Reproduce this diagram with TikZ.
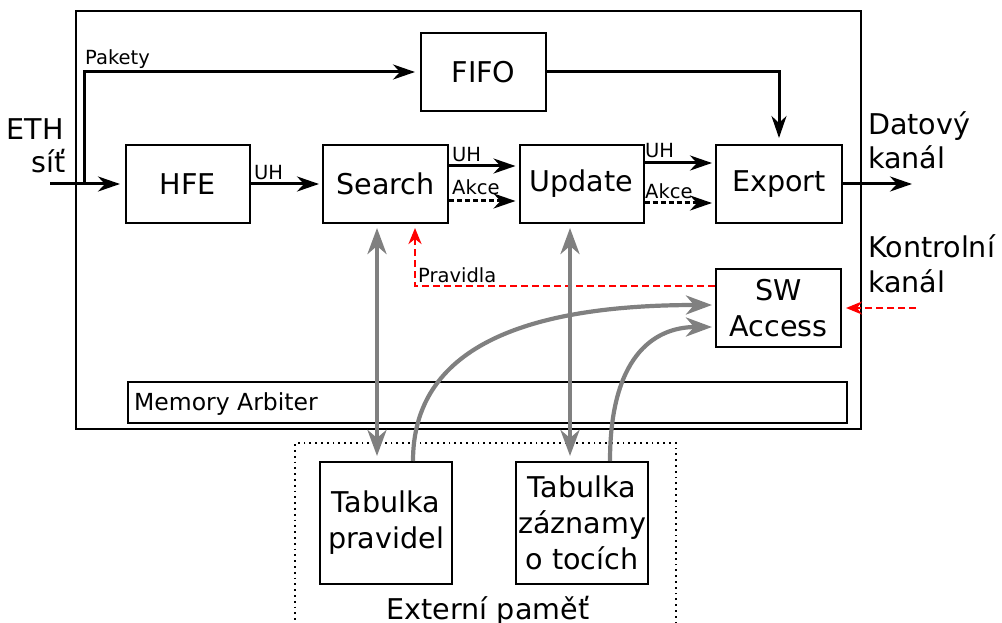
\documentclass[tikz,border=0pt]{standalone}
\usepackage{fontspec}
\setmainfont{DejaVu Sans}
\usetikzlibrary{arrows.meta,calc}

% text sizes used in the block diagram
\newcommand{\dgBig}{\fontsize{28.6}{36}\selectfont}
\newcommand{\dgSmall}{\fontsize{19.5}{21}\selectfont}
\newcommand{\dgArb}{\fontsize{23.5}{26}\selectfont}

\begin{document}
\begin{tikzpicture}[x=1pt,y=-1pt,
  blockbox/.style={draw, line width=2pt, inner sep=0pt, align=center, font=\dgBig},
  txt/.style={inner sep=0pt, font=\dgBig},
  lbl/.style={inner sep=0pt, font=\dgSmall},
  arr/.style={line width=3pt, -{Stealth[length=22pt,width=15pt,inset=7pt]}, shorten >=3pt},
  dashline/.style={dash pattern=on 5pt off 3pt},
  redarr/.style={red, line width=2.6pt, dash pattern=on 7pt off 4pt,
    -{Stealth[length=16pt,width=13pt,inset=5pt]}, shorten >=4pt},
  grayarr/.style={gray, line width=4.2pt},
  gtip/.tip={Stealth[length=26pt,width=19pt,inset=8pt]}
]
\useasboundingbox (0,0) rectangle (1002,623);
\clip (0,0) rectangle (1002,623);

% enclosing boxes
\node[draw, line width=2pt, minimum width=785pt, minimum height=418pt] (core) at (468.5,220) {};
\node[draw, line width=1.8pt, dash pattern=on 1.8pt off 4pt, minimum width=381pt, minimum height=217pt] (extmem) at (485.5,551.5) {};
\node[draw, line width=2pt, minimum width=719pt, minimum height=41pt] (arb) at (487.5,402.5) {};
\node[inner sep=0pt, font=\dgArb, anchor=base west] (arbtxt) at (134,410) {Memory Arbiter};

% processing blocks
\node[blockbox, minimum width=125pt, minimum height=78pt] (fifo)   at (483.5,72)  {FIFO};
\node[blockbox, minimum width=124pt, minimum height=78pt] (hfe)    at (188,184)   {HFE};
\node[blockbox, minimum width=125pt, minimum height=78pt] (search) at (385.5,184) {Search};
\node[blockbox, minimum width=124pt, minimum height=78pt] (update) at (581.5,184) {Update};
\node[blockbox, minimum width=126pt, minimum height=78pt] (export) at (779,184)   {Export};
\node[blockbox, minimum width=125pt, minimum height=78pt] (swa)    at (778.5,308) {SW\\Access};
\node[blockbox, minimum width=132pt, minimum height=122pt] (tab1)  at (386,523)   {Tabulka\\pravidel};
\node[blockbox, minimum width=132pt, minimum height=122pt] (tab2)  at (582,523)   {Tabulka\\záznamy\\o tocích};

% outside texts
\node[txt, anchor=base east] (eth1) at (64,140) {ETH};
\node[txt, anchor=base east] (eth2) at (66,173) {síť};
\node[txt, anchor=base west] (dk1) at (868,135) {Datový};
\node[txt, anchor=base west] (dk2) at (868,168) {kanál};
\node[txt, anchor=base west] (kk1) at (868,257) {Kontrolní};
\node[txt, anchor=base west] (kk2) at (868,292) {kanál};
\node[txt, anchor=base] (memtxt) at (488,619) {Externí paměť};

% free ends of the data path
\coordinate (ethin) at (50,184);
\coordinate (split) at (84,184);
\coordinate (dataout) at (912,184);
\coordinate (ctrlin) at (916,308);

% data path
\draw[arr, shorten >=5pt] (ethin) -- (hfe);
\draw[arr, shorten >=5pt] (split) |- (fifo.west);
\draw[arr, shorten >=6pt] (fifo.east) -| (export.north);
\draw[arr] (hfe) -- (search);
\draw[arr] ([yshift=18pt]search.east) -- ([yshift=18pt]update.west);
\draw[arr, dashline] ([yshift=-17pt]search.east) -- ([yshift=-17pt]update.west);
\draw[arr] ([yshift=21pt]update.east) -- ([yshift=21pt]export.west);
\draw[arr, dashline] ([yshift=-19pt]update.east) -- ([yshift=-19pt]export.west);
\draw[arr, shorten >=0pt] (export) -- (dataout);

% connector labels
\node[lbl, anchor=base west] (lpak) at (85,65)  {Pakety};
\node[lbl, anchor=base west] (luh1) at (254,179) {UH};
\node[lbl, anchor=base west] (luh2) at (452,162) {UH};
\node[lbl, anchor=base west] (lak2) at (452,195) {Akce};
\node[lbl, anchor=base west] (luh3) at (645,158) {UH};
\node[lbl, anchor=base west] (lak3) at (645,198) {Akce};
\node[lbl, anchor=base west] (lprav) at (418,282) {Pravidla};

% control path
\draw[redarr] (ctrlin) -- (swa.east);
\draw[redarr] ([yshift=22pt]swa.west) -| ([xshift=29.5pt]search.south);

% memory accesses
\draw[grayarr, gtip-gtip, shorten <=4pt, shorten >=5pt] ([xshift=-8.5pt]search.south) -- ([xshift=-9pt]tab1.north);
\draw[grayarr, gtip-gtip, shorten <=4pt, shorten >=5pt] ([xshift=-11.5pt]update.south) -- ([xshift=-12pt]tab2.north);
\draw[grayarr, -gtip, shorten >=3pt] ([xshift=27pt]tab1.north) .. controls +(0,-112) and +(-193,0) .. ([yshift=3pt]swa.west);
\draw[grayarr, -gtip, shorten >=3pt] ([xshift=28pt]tab2.north) .. controls +(0,-102) and +(-63,0) .. ([yshift=-19pt]swa.west);
\end{tikzpicture}
\end{document}
